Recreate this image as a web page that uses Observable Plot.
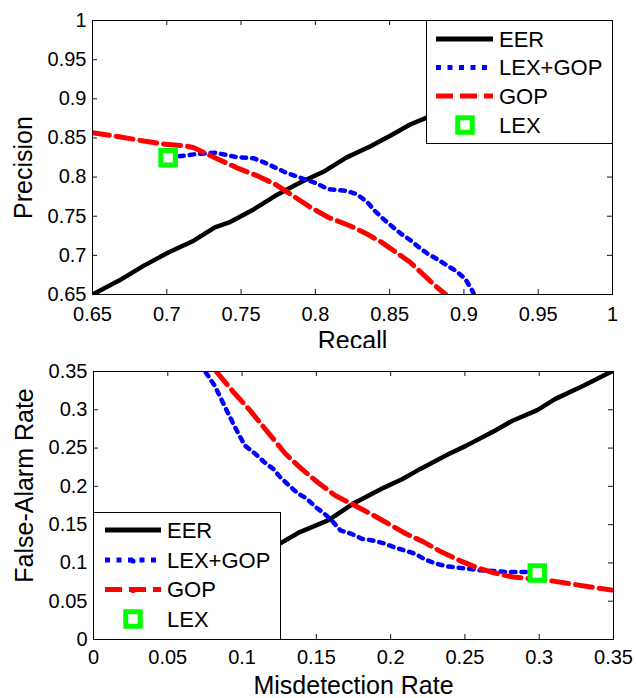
<!DOCTYPE html>
<html>
<head>
<meta charset="utf-8">
<script src="https://cdn.jsdelivr.net/npm/d3@7"></script>
<script src="https://cdn.jsdelivr.net/npm/@observablehq/plot@0.6"></script>
<style>
  html, body { margin: 0; padding: 0; background: #fff; }
  #wrap { position: relative; width: 636px; height: 698px; overflow: hidden; background: #fff; }
  #wrap svg { position: absolute; left: 0; display: block; }
</style>
</head>
<body>
<div id="wrap"></div>
<script>
// ---------------- Top panel data (Precision vs Recall) ----------------
const topEERRecall    = [0.65, 0.6679, 0.6846, 0.7014, 0.7181, 0.7324, 0.742, 0.7587, 0.773, 0.7898, 0.8065, 0.8208, 0.8375, 0.8519, 0.8638, 0.8746, 0.9, 0.95, 1.0];
const topEERPrecision = [0.65, 0.6678, 0.6869, 0.7039, 0.7187, 0.7357, 0.7421, 0.759, 0.776, 0.793, 0.8078, 0.8248, 0.8396, 0.8545, 0.8672, 0.8757, 0.9, 0.95, 1.0];

const topLexGopRecall    = [0.7014, 0.7181, 0.7324, 0.7468, 0.7587, 0.7659, 0.7802, 0.7898, 0.7993, 0.8089, 0.8208, 0.828, 0.8352, 0.84, 0.8459, 0.8519, 0.8579, 0.8638, 0.8698, 0.8758, 0.8817, 0.8889, 0.8949, 0.9009, 0.9056, 0.9068];
const topLexGopPrecision = [0.8248, 0.829, 0.8312, 0.8256, 0.8239, 0.8184, 0.8057, 0.7993, 0.793, 0.7845, 0.7824, 0.7781, 0.7675, 0.7569, 0.7463, 0.7365, 0.7272, 0.7196, 0.7102, 0.7018, 0.6954, 0.6869, 0.6797, 0.6699, 0.6551, 0.65];

const topGopRecall    = [0.65, 0.6655, 0.6846, 0.699, 0.7133, 0.7181, 0.7324, 0.7468, 0.7611, 0.773, 0.785, 0.7969, 0.8089, 0.8232, 0.8328, 0.8447, 0.8543, 0.8638, 0.871, 0.8805, 0.8877];
const topGopPrecision = [0.8566, 0.8524, 0.846, 0.8418, 0.8396, 0.8375, 0.8248, 0.8121, 0.8015, 0.7908, 0.776, 0.7612, 0.7484, 0.7378, 0.7293, 0.7166, 0.7039, 0.6912, 0.6784, 0.6614, 0.65];

const topLexRecall    = [0.7009];
const topLexPrecision = [0.8248];

const topXTicks  = [0.65, 0.7, 0.75, 0.8, 0.85, 0.9, 0.95, 1];
const topXLabels = ["0.65", "0.7", "0.75", "0.8", "0.85", "0.9", "0.95", "1"];
const topYTicks  = [0.65, 0.7, 0.75, 0.8, 0.85, 0.9, 0.95, 1];
const topYLabels = ["0.65", "0.7", "0.75", "0.8", "0.85", "0.9", "0.95", "1"];

// ---------------- Bottom panel data (False-Alarm vs Misdetection) ----------------
const botEERMiss = [0, 0.05, 0.1, 0.126, 0.1389, 0.1579, 0.1746, 0.1937, 0.208, 0.22, 0.2391, 0.251, 0.2701, 0.282, 0.2987, 0.3106, 0.3297, 0.3488];
const botEERFA   = [0, 0.05, 0.1, 0.1259, 0.1403, 0.1555, 0.1772, 0.1967, 0.2097, 0.2228, 0.2423, 0.2532, 0.2727, 0.2857, 0.2996, 0.3139, 0.3313, 0.35];

const botLexGopMiss = [0.0756, 0.0816, 0.0876, 0.0947, 0.1019, 0.109, 0.115, 0.121, 0.1257, 0.1317, 0.1365, 0.1436, 0.1496, 0.1556, 0.1603, 0.1663, 0.1734, 0.1806, 0.1878, 0.1949, 0.2021, 0.2092, 0.2164, 0.2235, 0.2307, 0.2379, 0.245, 0.2522, 0.2605, 0.2689, 0.2772, 0.2844, 0.2915, 0.2987];
const botLexGopFA   = [0.3487, 0.3314, 0.3074, 0.2792, 0.2532, 0.2423, 0.2315, 0.2228, 0.2119, 0.2011, 0.1924, 0.1837, 0.1728, 0.1641, 0.1555, 0.1424, 0.1381, 0.1316, 0.1294, 0.1259, 0.1207, 0.1164, 0.112, 0.1042, 0.099, 0.0955, 0.0938, 0.0925, 0.0903, 0.0895, 0.0882, 0.0882, 0.0882, 0.0873];

const botGopMiss = [0.0826, 0.0935, 0.1055, 0.1174, 0.1293, 0.1389, 0.1508, 0.1627, 0.1746, 0.1866, 0.1985, 0.2104, 0.2224, 0.2343, 0.2462, 0.2581, 0.2701, 0.282, 0.2939, 0.3059, 0.3202, 0.3345, 0.35];
const botGopFA   = [0.35, 0.3248, 0.2988, 0.2705, 0.2423, 0.2249, 0.2054, 0.188, 0.1763, 0.1641, 0.1511, 0.1381, 0.1272, 0.1142, 0.1034, 0.0938, 0.0868, 0.0816, 0.0795, 0.0773, 0.073, 0.0686, 0.0643];

const botLexMiss = [0.2987];
const botLexFA   = [0.0869];

const botXTicks  = [0, 0.05, 0.1, 0.15, 0.2, 0.25, 0.3, 0.35];
const botXLabels = ["0", "0.05", "0.1", "0.15", "0.2", "0.25", "0.3", "0.35"];
const botYTicks  = [0, 0.05, 0.1, 0.15, 0.2, 0.25, 0.3, 0.35];
const botYLabels = ["0", "0.05", "0.1", "0.15", "0.2", "0.25", "0.3", "0.35"];

const seriesNames = ["EER", "LEX+GOP", "GOP", "LEX"];

// ---------------- helpers ----------------
const FONT = "'Liberation Sans', Arial, Helvetica, sans-serif";
const zip = (xs, ys) => xs.map((x, i) => ({x, y: ys[i]}));
const labeler = (ticks, labels) => d => { const i = ticks.findIndex(t => Math.abs(t - d) < 1e-9); return i >= 0 ? labels[i] : ""; };

function panel(o) {
  const W = 636 - o.mL - o.mR;
  const H = o.height - o.mT - o.mB;
  const tk = 5;
  return Plot.plot({
    width: 636, height: o.height,
    marginLeft: o.mL, marginRight: o.mR, marginTop: o.mT, marginBottom: o.mB,
    x: {domain: o.xDomain},
    y: {domain: o.yDomain},
    style: {fontFamily: FONT, fontSize: "20px", color: "black", background: "white", overflow: "visible"},
    marks: [
      Plot.line(o.eer, {x: "x", y: "y", stroke: "black", strokeWidth: 4.5, clip: true}),
      Plot.line(o.lexgop, {x: "x", y: "y", stroke: "#0000ff", strokeWidth: 4.5, strokeDasharray: "4.5,6", clip: true}),
      Plot.line(o.gop, {x: "x", y: "y", stroke: "#ff0000", strokeWidth: 5, strokeDasharray: "17,7", clip: true}),
      Plot.dot(o.lex, {x: "x", y: "y", symbol: "square", r: 8.2, stroke: "#00ff00", strokeWidth: 5, fill: "white"}),
      Plot.ruleX(o.xTicks, {stroke: "#111", strokeWidth: 1, insetTop: H - tk}),
      Plot.ruleX(o.xTicks, {stroke: "#111", strokeWidth: 1, insetBottom: H - tk}),
      Plot.ruleY(o.yTicks, {stroke: "#111", strokeWidth: 1, insetRight: W - tk}),
      Plot.ruleY(o.yTicks, {stroke: "#111", strokeWidth: 1, insetLeft: W - tk}),
      Plot.frame({stroke: "black", strokeWidth: 1}),
      Plot.axisX({anchor: "bottom", ticks: o.xTicks, tickSize: 0, tickPadding: o.xPad, tickFormat: labeler(o.xTicks, o.xLabels), fontSize: 20, label: null}),
      Plot.axisY({anchor: "left", ticks: o.yTicks, tickSize: 0, tickPadding: 6, tickFormat: labeler(o.yTicks, o.yLabels), fontSize: 20, label: null}),
      Plot.text([o.xLabel], {frameAnchor: "bottom", dy: 46.8, fontSize: 25, lineAnchor: "middle", textAnchor: "middle", fill: "black"}),
      Plot.text([o.yLabel], {frameAnchor: "left", rotate: -90, dx: -68.7, dy: o.yLabelDy, fontSize: 25, lineAnchor: "middle", textAnchor: "middle", fill: "black"})
    ]
  });
}

function legend(svg, L) {
  const g = d3.select(svg).append("g").attr("font-family", FONT).attr("font-size", 22).attr("text-anchor", "start");
  g.append("rect").attr("x", L.x0 + 0.5).attr("y", L.y0 + 0.5).attr("width", L.w).attr("height", L.h)
    .attr("fill", "white").attr("stroke", "black").attr("stroke-width", 1);
  const styles = [
    {stroke: "black", width: 5, dash: null},
    {stroke: "#0000ff", width: 5, dash: "5,6.5"},
    {stroke: "#ff0000", width: 5, dash: "17,7"}
  ];
  seriesNames.forEach((name, i) => {
    const y = L.rows[i];
    if (i < 3) {
      const s = styles[i];
      const ln = g.append("line").attr("x1", L.lx1).attr("x2", L.lx2).attr("y1", y).attr("y2", y)
        .attr("stroke", s.stroke).attr("stroke-width", s.width);
      if (s.dash) ln.attr("stroke-dasharray", s.dash);
      if (L.midDots && i > 0) {
        g.append("circle").attr("cx", L.mx).attr("cy", y + 1).attr("r", 2.6).attr("fill", s.stroke);
      }
    } else {
      g.append("rect").attr("x", L.mx - 7.25).attr("y", y - 7.25).attr("width", 14.5).attr("height", 14.5)
        .attr("fill", "white").attr("stroke", "#00ff00").attr("stroke-width", 5);
    }
    g.append("text").attr("x", L.tx).attr("y", y).attr("dy", "0.36em").attr("fill", "black").attr("text-anchor", "start").text(name);
  });
}

const wrap = document.getElementById("wrap");

const topSvg = panel({
  height: 348, mL: 92, mR: 24, mT: 20, mB: 54,
  xDomain: [0.65, 1], yDomain: [0.65, 1],
  xTicks: topXTicks, xLabels: topXLabels, yTicks: topYTicks, yLabels: topYLabels,
  xPad: 12, xLabel: "Recall", yLabel: "Precision", yLabelDy: 10,
  eer: zip(topEERRecall, topEERPrecision),
  lexgop: zip(topLexGopRecall, topLexGopPrecision),
  gop: zip(topGopRecall, topGopPrecision),
  lex: zip(topLexRecall, topLexPrecision)
});
topSvg.style.top = "0px";
legend(topSvg, {x0: 426, y0: 20, w: 186, h: 123, rows: [39, 67.5, 96, 125], lx1: 436, lx2: 493, tx: 499, mx: 465, midDots: false});
wrap.appendChild(topSvg);

const botSvg = panel({
  height: 350, mL: 93, mR: 23, mT: 23, mB: 59,
  xDomain: [0, 0.35], yDomain: [0, 0.35],
  xTicks: botXTicks, xLabels: botXLabels, yTicks: botYTicks, yLabels: botYLabels,
  xPad: 10, xLabel: "Misdetection Rate", yLabel: "False-Alarm Rate", yLabelDy: -20,
  eer: zip(botEERMiss, botEERFA),
  lexgop: zip(botLexGopMiss, botLexGopFA),
  gop: zip(botGopMiss, botGopFA),
  lex: zip(botLexMiss, botLexFA)
});
botSvg.style.top = "348px";
legend(botSvg, {x0: 93, y0: 164, w: 187, h: 127, rows: [182, 212, 241.5, 271], lx1: 105, lx2: 161, tx: 167, mx: 133, midDots: true});
wrap.appendChild(botSvg);
</script>
</body>
</html>
